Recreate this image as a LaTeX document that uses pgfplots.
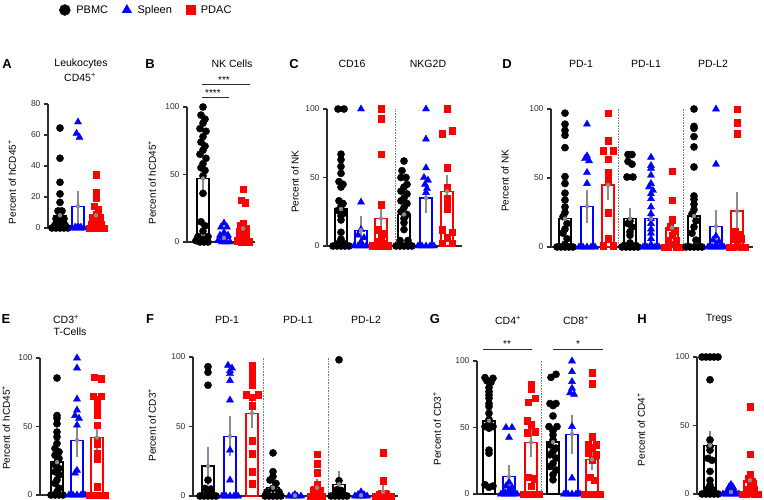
\documentclass[border=0pt]{standalone}
\usepackage{fontspec}
\setmainfont{Liberation Sans}
\usepackage{pgfplots}
\pgfplotsset{compat=1.18}
\definecolor{pblue}{RGB}{0,0,255}
\definecolor{pred}{RGB}{255,0,0}
\definecolor{ebgray}{RGB}{140,140,140}
\definecolor{axgray}{RGB}{45,45,45}
\newcommand{\ttl}{\fontsize{10.5}{12}\selectfont}
\newcommand{\lett}{\fontsize{13}{15}\selectfont\bfseries}
\pgfplotsset{
 panel/.style={scale only axis, anchor=south west, axis lines=left,
   axis line style={-, line width=1.1pt, draw=axgray},
   tick align=outside, major tick length=4pt, tick style={line width=1.1pt, draw=axgray},
   xtick=\empty, ymin=0, ymax=100, ytick={0,50,100}, clip=false,
   yticklabel style={font=\fontsize{8.5}{10}\selectfont, text=axgray},
   ylabel style={font=\fontsize{10}{12}\selectfont, anchor=center},
   /pgf/number format/assume math mode=true},
 bK/.style={ybar, bar width=12, draw=black, fill=none, line width=1.3pt, forget plot},
 bB/.style={ybar, bar width=12, draw=pblue, fill=none, line width=1.3pt, forget plot},
 bR/.style={ybar, bar width=12, draw=pred, fill=none, line width=1.3pt, forget plot},
 pK/.style={only marks, mark=*, mark size=3.6pt, mark options={draw=black, fill=black}, forget plot},
 pB/.style={only marks, mark=triangle*, mark size=4.1pt, mark options={draw=pblue, fill=pblue}, forget plot},
 pR/.style={only marks, mark=square*, mark size=3.3pt, mark options={draw=pred, fill=pred}, forget plot},
 eb/.style={forget plot, only marks, mark=none, ebgray, error bars/.cd, y dir=both, y explicit,
   error bar style={line width=1.1pt, ebgray}, error mark options={mark size=3.5pt, line width=1.1pt, ebgray}},
}
\begin{document}
\begin{tikzpicture}
\useasboundingbox (0,0) rectangle (764pt,-500pt);
% ---------------- A
\begin{axis}[panel, at={(48pt,-228pt)}, width=60pt, height=124pt, xmin=48, xmax=108, ymax=80, ytick={0,20,40,60,80},
  ylabel={Percent of hCD45\textsuperscript{+}}, ylabel style={at={(axis description cs:-0.6,0.37)}},
  legend style={draw=none, fill=none, at={(axis description cs:1.64,1.758)}, anchor=center, legend columns=3,
   font=\fontsize{11}{13}\selectfont, /tikz/every odd column/.append style={column sep=4pt},
   /tikz/every even column/.append style={column sep=12pt}}]
\addlegendimage{only marks, mark=*, mark size=5.5pt, black}\addlegendentry{PBMC}
\addlegendimage{only marks, mark=triangle*, mark size=5.5pt, pblue}\addlegendentry{Spleen}
\addlegendimage{only marks, mark=square*, mark size=4.5pt, pred}\addlegendentry{PDAC}
\addplot[bK] coordinates {(60,8.2)};
\addplot[bB] coordinates {(78,14)};
\addplot[bR] coordinates {(96,8.2)};
\addplot[pK] coordinates {(60,64.5)(60,45)(60,29.5)(60,22)(60,16.5)(58,11)(62,11)(60,8)(56,6)(64,6)(58,4)(62,3.5)(55,2)(65,2)(60,1.5)(52,0)(56,0)(60,0)(64,0)(68,0)(58,0.5)(62,0.5)};
\addplot[pB] coordinates {(78,68.4)(76.5,61)(79.5,58.5)(72,0)(76,0)(80,0)(84,0)(78,1)(75,0.5)(81,0.5)};
\addplot[pR] coordinates {(96,34.4)(96,23)(96,19.4)(94,14)(98,12)(96,9)(92,7)(100,7)(94,5)(98,4)(91,2)(101,2)(96,1.5)(89,0)(93,0)(97,0)(101,0)(104,0)};
\addplot[eb] coordinates {(60,8.2) +- (0,3.2)};
\addplot[eb] coordinates {(78,14) +- (0,7.7)};
\addplot[eb] coordinates {(96,8.2) +- (0,3.2)};
\end{axis}
% ---------------- B
\begin{axis}[panel, at={(187pt,-242pt)}, width=68pt, height=135pt, xmin=187, xmax=255,
  ylabel={Percent of hCD45\textsuperscript{+}}, ylabel style={at={(axis description cs:-0.515,0.44)}}]
\addplot[bK] coordinates {(203,47)};
\addplot[bB] coordinates {(224,3)};
\addplot[bR] coordinates {(243,10)};
\addplot[pK] coordinates {(203,100)(201,94)(205,91)(203,88)(200,84)(206,82)(203,78)(201,74)(205,71)(203,68)(200,65)(206,62)(203,58)(201,55)(205,53)(203,49)(203,36)(201,15)(205,12)(203,8)(198,4)(208,4)(196,1)(200,0)(204,0)(208,0)(203,2)};
\addplot[pB] coordinates {(224,14)(221,11)(227,11)(224,7)(220,5)(228,5)(224,3)(218,1)(222,0)(226,0)(230,0)(224,0.5)};
\addplot[pR] coordinates {(243,39)(241,31)(245,29)(243,14)(240,12)(246,10)(243,8)(240,6)(246,5)(243,3)(237,1)(241,0)(245,0)(249,0)(243,1.5)};
\addplot[eb] coordinates {(203,47) +- (0,6)};
\addplot[eb] coordinates {(224,3) +- (0,1.2)};
\addplot[eb] coordinates {(243,10) +- (0,3)};
\end{axis}
% ---------------- C
\begin{axis}[panel, at={(327pt,-246pt)}, width=135pt, height=137pt, xmin=327, xmax=462,
  ylabel={Percent of NK}, ylabel style={at={(axis description cs:-0.237,0.47)}}]
\draw[densely dotted, gray, line width=0.6pt] (axis cs:395,0) -- (axis cs:395,100);
\addplot[bK] coordinates {(341,27)};
\addplot[bB] coordinates {(361,11.5)};
\addplot[bR] coordinates {(381,20)};
\addplot[bK] coordinates {(404,23)};
\addplot[bB] coordinates {(426,35)};
\addplot[bR] coordinates {(447,40)};
\addplot[pK] coordinates {(338,100)(344,100)(341,67)(341,63)(341,58)(341,53)(339,47)(343,45)(341,43)(339,33)(343,31)(341,29)(338,26)(344,24)(341,22)(341,19)(341,10)(341,5)(333,0)(337,0)(341,0)(345,0)(349,0)(339,2)(343,2)};
\addplot[pB] coordinates {(361,100)(361,32)(361,12)(358,8)(364,6)(361,3)(354,0)(358,0)(362,0)(366,0)(370,0)};
\addplot[pR] coordinates {(381,100)(381,93)(381,67)(381,30)(378,12)(384,9)(381,6)(378,3)(384,2)(372,0)(376,0)(380,0)(384,0)(388,0)};
\addplot[pK] coordinates {(404,62)(402,55)(406,50)(401,50)(407,45)(404,43)(401,40)(407,38)(404,35)(401,33)(407,31)(404,28)(401,25)(407,23)(404,20)(404,17)(404,12)(396,0)(400,0)(404,0)(408,0)(412,0)(400,4)(408,4)};
\addplot[pB] coordinates {(426,100)(426,78)(426,57)(424,50)(428,48)(425,45)(427,42)(426,39)(418,0)(422,0)(426,0)(430,0)(434,0)};
\addplot[pR] coordinates {(447,100)(452,84)(442,82)(447,57)(447,43)(447,35)(447,30)(447,27)(442,12)(452,10)(447,6)(442,2)(452,2)};
\addplot[eb] coordinates {(341,27) +- (0,4)};
\addplot[eb] coordinates {(361,11.5) +- (0,7.5)};
\addplot[eb] coordinates {(381,20) +- (0,8.5)};
\addplot[eb] coordinates {(404,23) +- (0,4)};
\addplot[eb] coordinates {(426,35) +- (0,8)};
\addplot[eb] coordinates {(447,40) +- (0,9)};
\end{axis}
% ---------------- D
\begin{axis}[panel, at={(551pt,-247pt)}, width=202pt, height=138pt, xmin=551, xmax=753,
  ylabel={Percent of NK}, ylabel style={at={(axis description cs:-0.228,0.48)}}]
\draw[densely dotted, gray, line width=0.6pt] (axis cs:618,0) -- (axis cs:618,100);
\draw[densely dotted, gray, line width=0.6pt] (axis cs:683,0) -- (axis cs:683,100);
\addplot[bK] coordinates {(565,20.5)};
\addplot[bB] coordinates {(587,29.5)};
\addplot[bR] coordinates {(608,45)};
\addplot[bK] coordinates {(630,20.5)};
\addplot[bB] coordinates {(651,20.5)};
\addplot[bR] coordinates {(672,14)};
\addplot[bK] coordinates {(694,22.5)};
\addplot[bB] coordinates {(716,15)};
\addplot[bR] coordinates {(737,26)};
\addplot[pK] coordinates {(565,97)(565,89)(565,84.5)(565,81)(565,72)(565,51)(565,46)(565,39)(565,34)(565,29)(565,25)(563,22)(567,17)(565,13)(563,10)(567,6)(565,2)(557,0)(561,0)(565,0)(569,0)(573,0)};
\addplot[pB] coordinates {(587,89)(587,66)(585,64)(589,62.5)(587,54)(587,46)(579,0)(583,0)(587,0)(591,0)(595,0)(581,0.5)(593,0.5)};
\addplot[pR] coordinates {(608,97)(608,77)(603,70)(613,70)(608,63.5)(608,54)(608,48)(608,25)(608,6)(603,1)(613,1)};
\addplot[pK] coordinates {(628,67)(632,67)(628,62)(632,60)(627,50.7)(633,50.7)(630,19)(628,17)(632,14.5)(630,11)(630,8.5)(622,0)(626,0)(630,0)(634,0)(638,0)(630,3)(624,1)(636,1)};
\addplot[pB] coordinates {(651,65)(651,59)(651,57)(651,52)(651,46)(649,43.5)(653,41)(651,38.6)(651,35)(651,29)(651,24)(651,20.5)(651,17)(651,13)(651,10)(651,6)(651,2)(643,0)(647,0)(651,0)(655,0)(659,0)};
\addplot[pR] coordinates {(672,55)(672,34)(672,20)(670,14.5)(674,12)(672,8.5)(668,5)(676,5)(672,2)(664,0)(668,0)(676,0)(680,0)};
\addplot[pK] coordinates {(694,100)(694,87.4)(694,86)(694,80)(694,72.5)(694,58)(694,37)(694,34.5)(694,31)(694,27)(692,24)(696,19)(694,14.5)(692,10)(696,5)(686,0)(690,0)(694,0)(698,0)(702,0)};
\addplot[pB] coordinates {(716,100)(716,60)(716,8)(713,5)(719,4)(716,2)(708,0)(712,0)(716,0)(720,0)(724,0)};
\addplot[pR] coordinates {(737,100)(737,90)(737,82)(735,11)(739,9)(733,6)(741,6)(737,4)(729,0)(733,0)(741,0)(745,0)(737,1)};
\addplot[eb] coordinates {(565,20.5) +- (0,4.5)};
\addplot[eb] coordinates {(587,29.5) +- (0,9.5)};
\addplot[eb] coordinates {(608,45) +- (0,8.5)};
\addplot[eb] coordinates {(630,20.5) +- (0,5.5)};
\addplot[eb] coordinates {(651,20.5) +- (0,4.5)};
\addplot[eb] coordinates {(672,14) +- (0,4)};
\addplot[eb] coordinates {(694,22.5) +- (0,6)};
\addplot[eb] coordinates {(716,15) +- (0,9)};
\addplot[eb] coordinates {(737,26) +- (0,11)};
\end{axis}
% ---------------- E
\begin{axis}[panel, at={(40pt,-495pt)}, width=67pt, height=137pt, xmin=40, xmax=107,
  ylabel={Percent of hCD45\textsuperscript{+}}, ylabel style={at={(axis description cs:-0.507,0.49)}}]
\addplot[bK] coordinates {(57,24)};
\addplot[bB] coordinates {(77,40)};
\addplot[bR] coordinates {(97,42)};
\addplot[pK] coordinates {(57,85.4)(57,58)(57,56)(57,52)(57,46)(57,42.5)(57,37.6)(55,34)(59,31.5)(55,29)(59,26.7)(57,24)(55,22)(59,19.4)(55,17)(59,14.6)(57,11)(55,8.5)(59,5)(57,2.4)(51,0)(55,0)(59,0)(63,0)};
\addplot[pB] coordinates {(77,100)(77,92.7)(77,70)(77,62)(75,58)(79,56)(77,51)(77,18)(75,16)(69,0)(73,0)(77,0)(81,0)(85,0)};
\addplot[pR] coordinates {(94,86)(101,85)(93,72)(101,72)(97,70)(97,67)(97,64)(97,61)(97,58.7)(97,51)(97,40)(97,37.6)(97,30)(97,26.7)(97,6)(89,0)(93,0)(97,0)(101,0)(105,0)};
\addplot[eb] coordinates {(57,24) +- (0,3.5)};
\addplot[eb] coordinates {(77,40) +- (0,10)};
\addplot[eb] coordinates {(97,42) +- (0,8)};
\end{axis}
% ---------------- F
\begin{axis}[panel, at={(193pt,-496pt)}, width=205pt, height=139pt, xmin=193, xmax=398,
  ylabel={Percent of CD3\textsuperscript{+}}, ylabel style={at={(axis description cs:-0.2,0.51)}}]
\draw[densely dotted, gray, line width=0.6pt] (axis cs:263,0) -- (axis cs:263,100);
\draw[densely dotted, gray, line width=0.6pt] (axis cs:328,0) -- (axis cs:328,100);
\addplot[bK] coordinates {(208,21.5)};
\addplot[bB] coordinates {(230,43)};
\addplot[bR] coordinates {(252,59.5)};
\addplot[bK] coordinates {(273,6)};
\addplot[bB] coordinates {(295,0.3)};
\addplot[bR] coordinates {(317,6)};
\addplot[bK] coordinates {(339,8.5)};
\addplot[bB] coordinates {(361,0.5)};
\addplot[bR] coordinates {(383,3)};
\addplot[pK] coordinates {(208,93)(208,89)(208,79.7)(208,11.5)(205,5.5)(211,5)(208,3)(200,0)(204,0)(208,0)(212,0)(216,0)(208,1)};
\addplot[pB] coordinates {(228,94)(232,92)(230,90)(230,88)(230,83)(230,69)(230,33)(230,11.5)(222,0)(226,0)(230,0)(234,0)(238,0)};
\addplot[pR] coordinates {(252,94)(252,91)(252,88)(252,85)(252,80)(246,73)(258,73)(252,71)(252,65)(252,40)(252,30.6)(252,17.5)(252,9)};
\addplot[pK] coordinates {(273,31)(273,17.5)(273,14)(270,11.5)(276,9)(273,5.5)(267,3)(279,3)(265,0)(269,0)(273,0)(277,0)(281,0)};
\addplot[pB] coordinates {(289,0)(293,0)(297,0)(301,0)(295,1)(295,0.5)};
\addplot[pR] coordinates {(317,30)(317,23.4)(317,16.7)(317,8)(314,5)(320,4)(310,0)(314,0)(318,0)(322,0)(317,2)};
\addplot[pK] coordinates {(339,98)(339,11)(337,4.5)(341,4)(331,0)(335,0)(339,0)(343,0)(347,0)};
\addplot[pB] coordinates {(361,3)(358,1)(364,1)(355,0)(359,0)(363,0)(367,0)};
\addplot[pR] coordinates {(383,31)(383,11)(381,2)(385,1.5)(375,0)(379,0)(383,0)(387,0)(391,0)};
\addplot[eb] coordinates {(208,21.5) +- (0,11)};
\addplot[eb] coordinates {(230,43) +- (0,12)};
\addplot[eb] coordinates {(252,59.5) +- (0,8)};
\addplot[eb] coordinates {(273,6) +- (0,3)};
\addplot[eb] coordinates {(295,0.3) +- (0,0.2)};
\addplot[eb] coordinates {(317,6) +- (0,3.5)};
\addplot[eb] coordinates {(339,8.5) +- (0,7)};
\addplot[eb] coordinates {(361,0.5) +- (0,0.3)};
\addplot[eb] coordinates {(383,3) +- (0,2.6)};
\end{axis}
% ---------------- G
\begin{axis}[panel, at={(477pt,-494pt)}, width=126pt, height=133pt, xmin=477, xmax=603,
  ylabel={Percent of CD3\textsuperscript{+}}, ylabel style={at={(axis description cs:-0.317,0.49)}}]
\draw[densely dotted, gray, line width=0.6pt] (axis cs:541,0) -- (axis cs:541,100);
\addplot[bK] coordinates {(489,55)};
\addplot[bB] coordinates {(509,13)};
\addplot[bR] coordinates {(531,38.7)};
\addplot[bK] coordinates {(553,39)};
\addplot[bB] coordinates {(572,45)};
\addplot[bR] coordinates {(592,26)};
\addplot[pK] coordinates {(485,87.5)(493,87)(487,85)(491,84)(489,80)(489,77)(489,74.5)(489,72)(489,68)(489,65.7)(489,60.7)(489,56)(489,53)(485,50.7)(493,50.7)(489,49.5)(489,33)(489,30.7)(485,7)(493,6)(489,5)};
\addplot[pB] coordinates {(506,50)(512,50)(509,42.5)(509,9)(506,6)(512,5)(509,3)(505,1)(513,1)(501,0)(505,0)(509,0)(513,0)(517,0)};
\addplot[pR] coordinates {(531,82.5)(531,78.7)(535,72)(528,69)(527,55)(531,52)(535,47)(527,46)(528,12.5)(534,11.5)(531,6)(523,0)(527,0)(531,0)(535,0)(539,0)};
\addplot[pK] coordinates {(556,90)(551,87.7)(550,68)(556,68)(553,66.5)(553,58.7)(549,50.7)(557,50.7)(553,47.5)(553,44.5)(553,40.7)(550,37)(556,34.5)(553,32)(550,29.5)(556,27)(553,23)(550,20.7)(556,18)(553,14.5)(553,10.7)};
\addplot[pB] coordinates {(572,100)(572,92)(572,84.5)(572,79.5)(570,76)(574,75)(572,50.7)(572,12)(564,0)(568,0)(572,0)(576,0)(580,0)};
\addplot[pR] coordinates {(592,91)(592,83)(592,43)(588,37)(596,37)(592,34.6)(588,31)(596,29.5)(592,25.6)(590,12.7)(594,10.5)(584,0)(588,0)(592,0)(596,0)(600,0)};
\addplot[eb] coordinates {(489,55) +- (0,5.5)};
\addplot[eb] coordinates {(509,13) +- (0,6)};
\addplot[eb] coordinates {(531,38.7) +- (0,8.5)};
\addplot[eb] coordinates {(553,39) +- (0,4)};
\addplot[eb] coordinates {(572,45) +- (0,12)};
\addplot[eb] coordinates {(592,26) +- (0,5)};
\end{axis}
% ---------------- H
\begin{axis}[panel, at={(697pt,-494pt)}, width=65pt, height=137pt, xmin=697, xmax=762,
  ylabel={Percent of CD4\textsuperscript{+}}, ylabel style={at={(axis description cs:-0.862,0.47)}}]
\addplot[bK] coordinates {(710,35.5)};
\addplot[bB] coordinates {(731,1.5)};
\addplot[bR] coordinates {(750,10)};
\addplot[pK] coordinates {(702,100)(706,100)(710,100)(714,100)(718,100)(710,83.4)(710,39.5)(710,34.6)(710,32)(708,26)(712,24.6)(710,16.5)(710,10)(710,6.6)(707,3.4)(713,3)(702,0)(706,0)(710,0)(714,0)(718,0)};
\addplot[pB] coordinates {(731,7)(729,5)(733,5)(731,3)(727,2)(735,2)(731,1)(723,0)(727,0)(731,0)(735,0)(739,0)};
\addplot[pR] coordinates {(750,63.7)(750,29)(750,14)(748,11)(752,9)(750,6)(746,3)(754,3)(750,1)(742,0)(746,0)(754,0)(758,0)};
\addplot[eb] coordinates {(710,35.5) +- (0,8)};
\addplot[eb] coordinates {(731,1.5) +- (0,0.7)};
\addplot[eb] coordinates {(750,10) +- (0,4.4)};
\end{axis}
% ---------------- titles and letters
\node[font=\lett] at (7pt,-64pt) {A};
\node[font=\lett] at (150pt,-64pt) {B};
\node[font=\lett] at (294pt,-64pt) {C};
\node[font=\lett] at (507pt,-64pt) {D};
\node[font=\lett] at (6pt,-319pt) {E};
\node[font=\lett] at (150pt,-319pt) {F};
\node[font=\lett] at (435pt,-319pt) {G};
\node[font=\lett] at (642pt,-319pt) {H};
\node[font=\ttl] at (81pt,-64pt) {Leukocytes};
\node[font=\ttl] at (80pt,-77pt) {CD45\textsuperscript{+}};
\node[font=\ttl] at (232pt,-64pt) {NK Cells};
\node[font=\ttl] at (352pt,-64pt) {CD16};
\node[font=\ttl] at (428pt,-64pt) {NKG2D};
\node[font=\ttl] at (581pt,-64pt) {PD-1};
\node[font=\ttl] at (646pt,-64pt) {PD-L1};
\node[font=\ttl] at (713pt,-64pt) {PD-L2};
\node[font=\ttl] at (66pt,-319pt) {CD3\textsuperscript{+}};
\node[font=\ttl] at (70pt,-332pt) {T-Cells};
\node[font=\ttl] at (227pt,-320pt) {PD-1};
\node[font=\ttl] at (298pt,-320pt) {PD-L1};
\node[font=\ttl] at (366pt,-320pt) {PD-L2};
\node[font=\ttl] at (508pt,-320pt) {CD4\textsuperscript{+}};
\node[font=\ttl] at (576pt,-320pt) {CD8\textsuperscript{+}};
\node[font=\ttl] at (719pt,-319pt) {Tregs};
% significance
\draw[line width=1pt, axgray] (202pt,-85pt) -- (250pt,-85pt);
\node[font=\fontsize{10}{12}\selectfont] at (224pt,-80pt) {***};
\draw[line width=1pt, axgray] (202pt,-98pt) -- (229pt,-98pt);
\node[font=\fontsize{10}{12}\selectfont] at (213pt,-93pt) {****};
\draw[line width=1pt, axgray] (483pt,-349pt) -- (532pt,-349pt);
\node[font=\fontsize{10}{12}\selectfont] at (507pt,-344pt) {**};
\draw[line width=1pt, axgray] (553pt,-349pt) -- (603pt,-349pt);
\node[font=\fontsize{10}{12}\selectfont] at (578pt,-344pt) {*};
\end{tikzpicture}
\end{document}
